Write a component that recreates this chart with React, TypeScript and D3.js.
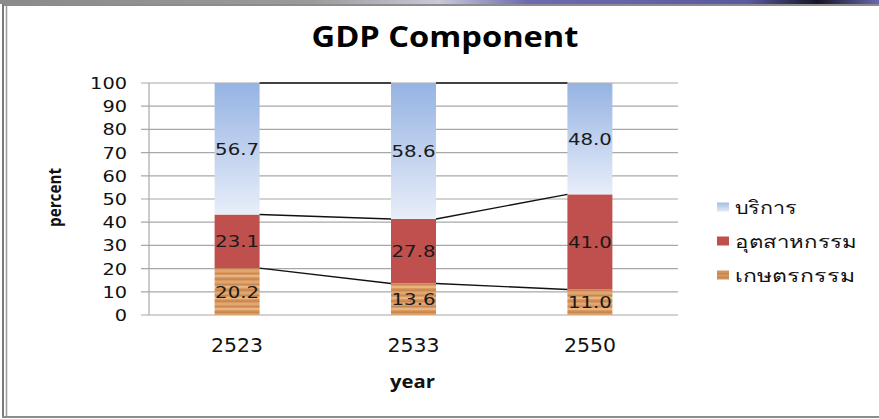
import React from "react";
import * as d3 from "d3";

const categories = ["2523", "2533", "2550"];
const seriesNames = ["เกษตรกรรม", "อุตสาหกรรม", "บริการ"];
const agriculture = [20.2, 13.6, 11.0];
const industry = [23.1, 27.8, 41.0];
const services = [56.7, 58.6, 48.0];
const yTicks = [0, 10, 20, 30, 40, 50, 60, 70, 80, 90, 100];

const W = 879, H = 419;
const plot = { left: 149, right: 678, top: 83, bottom: 315 };
const FONT = "'DejaVu Sans', Verdana, 'Noto Sans', sans-serif";
const TITLE_FONT = "'Open Sans', 'Noto Sans', sans-serif";
const legendWidths: Record<string, number> = { "บริการ": 62, "อุตสาหกรรม": 122, "เกษตรกรรม": 120 };

export default function App() {
  const x = d3.scaleBand<string>().domain(categories).range([plot.left, plot.right]).paddingInner(0.745).paddingOuter(0.372);
  const y = d3.scaleLinear().domain([0, 100]).range([plot.bottom, plot.top]);
  const values = [agriculture, industry, services];
  const rows = categories.map((c, i) => ({ cat: c, a: agriculture[i], b: industry[i], c2: services[i] }));
  const stack = d3.stack<any>().keys(["a", "b", "c2"])(rows);
  const fills = ["url(#wood)", "#C0504D", "url(#sky)"];
  const legendFills = ["url(#woodL)", "#C0504D", "url(#skyL)"];
  const bw = x.bandwidth();

  return (
    <svg width={W} height={H} style={{ position: "absolute", left: 0, top: 0, display: "block" }}>
      <defs>
        <linearGradient id="sky" x1="0" y1="0" x2="0" y2="1">
          <stop offset="0" stopColor="#95B3E3" />
          <stop offset="1" stopColor="#E8EEF9" />
        </linearGradient>
        <linearGradient id="skyL" x1="0" y1="0" x2="0" y2="1">
          <stop offset="0" stopColor="#A3BDE6" />
          <stop offset="1" stopColor="#E3EAF7" />
        </linearGradient>
        <pattern id="wood" patternUnits="userSpaceOnUse" width="45" height="11">
          <rect width="45" height="11" fill="#D99A62" />
          <rect y="0" width="45" height="2" fill="#E8B480" />
          <rect y="3.5" width="45" height="1.2" fill="#C4804A" />
          <rect y="6" width="45" height="1.8" fill="#E2A872" />
          <rect y="9" width="45" height="1" fill="#C98853" />
        </pattern>
        <pattern id="woodL" patternUnits="userSpaceOnUse" width="12" height="4">
          <rect width="12" height="4" fill="#D3935C" />
          <rect y="2" width="12" height="1" fill="#C7834D" />
        </pattern>
        <linearGradient id="frameTop" x1="0" y1="0" x2="1" y2="0">
          <stop offset="0" stopColor="#8A8A8A" />
          <stop offset="0.35" stopColor="#9A9A9A" />
          <stop offset="0.5" stopColor="#C8C8D8" />
          <stop offset="0.6" stopColor="#6E6AB0" />
          <stop offset="0.85" stopColor="#5A5AA0" />
          <stop offset="0.93" stopColor="#151525" />
          <stop offset="1" stopColor="#6A68B0" />
        </linearGradient>
      </defs>
      <rect width={W} height={H} fill="#fff" />
      {/* frame */}
      <rect x={0} y={0} width={W} height={4} fill="url(#frameTop)" />
      <line x1={2} y1={5} x2={W} y2={5} stroke="#8C8C8C" strokeWidth={2} />
      <line x1={3} y1={4} x2={3} y2={418} stroke="#7A7A7A" strokeWidth={2} />
      <line x1={6.5} y1={6} x2={6.5} y2={416} stroke="#9A9A9A" strokeWidth={1.5} />
      <line x1={2} y1={417} x2={W} y2={417} stroke="#8C8C8C" strokeWidth={2} />

      <text x={445} y={47} textAnchor="middle" fontFamily={TITLE_FONT} fontWeight="bold" fontSize={29} textLength={267} lengthAdjust="spacingAndGlyphs" fill="#000">GDP Component</text>

      {/* gridlines + ticks */}
      {yTicks.map(t => (
        <g key={t}>
          <line x1={plot.left - 8} x2={plot.right} y1={y(t)} y2={y(t)} stroke="#A8A8A8" strokeWidth={1.2} />
          <text x={127} y={y(t)} dy="0.36em" textAnchor="end" fontFamily={FONT} fontSize={16.5} textLength={String(t).length * 12.3} lengthAdjust="spacingAndGlyphs" fill="#111">{t}</text>
        </g>
      ))}
      <line x1={plot.left} x2={plot.left} y1={plot.top} y2={plot.bottom} stroke="#A8A8A8" strokeWidth={1.2} />

      {/* bars */}
      {stack.map((s, si) => (
        <g key={si}>
          {s.map((d, i) => (
            <rect key={i} x={x(categories[i])} y={y(d[1])} width={bw} height={y(d[0]) - y(d[1])} fill={fills[si]} />
          ))}
        </g>
      ))}

      {/* series lines */}
      {stack.map((s, si) => (
        <g key={"sl" + si}>
          {s.slice(0, -1).map((d, i) => (
            <line key={i} x1={(x(categories[i]) as number) + bw} y1={y(d[1])} x2={x(categories[i + 1]) as number} y2={y(s[i + 1][1])} stroke="#111" strokeWidth={1.4} />
          ))}
        </g>
      ))}

      {/* data labels */}
      {stack.map((s, si) => (
        <g key={"lb" + si}>
          {s.map((d, i) => (
            <text key={i} x={(x(categories[i]) as number) + bw / 2} y={(y(d[0]) + y(d[1])) / 2} dy="0.36em" textAnchor="middle" fontFamily={FONT} fontSize={16.5} textLength={44} lengthAdjust="spacingAndGlyphs" fill="#1a1a1a">{values[si][i].toFixed(1)}</text>
          ))}
        </g>
      ))}

      {/* x labels */}
      {categories.map(c => (
        <text key={c} x={(x(c) as number) + bw / 2} y={352} textAnchor="middle" fontFamily={FONT} fontSize={20} textLength={52} lengthAdjust="spacingAndGlyphs" fill="#111">{c}</text>
      ))}
      <text x={412.5} y={388} textAnchor="middle" fontFamily={TITLE_FONT} fontWeight="bold" fontSize={17} textLength={45} lengthAdjust="spacingAndGlyphs" fill="#111">year</text>
      <text transform="translate(61,197.5) rotate(-90)" textAnchor="middle" fontFamily={TITLE_FONT} fontWeight="bold" fontSize={17} textLength={59} lengthAdjust="spacingAndGlyphs" fill="#111">percent</text>

      {/* legend */}
      {[2, 1, 0].map((si, k) => (
        <g key={si} transform={`translate(717, ${207 + k * 34})`}>
          <rect x={0} y={-4.5} width={12} height={9} fill={legendFills[si]} />
          <text x={18} y={0} dy="0.38em" fontFamily={FONT} fontSize={18} textLength={legendWidths[seriesNames[si]]} lengthAdjust="spacingAndGlyphs" fill="#111">{seriesNames[si]}</text>
        </g>
      ))}
    </svg>
  );
}
